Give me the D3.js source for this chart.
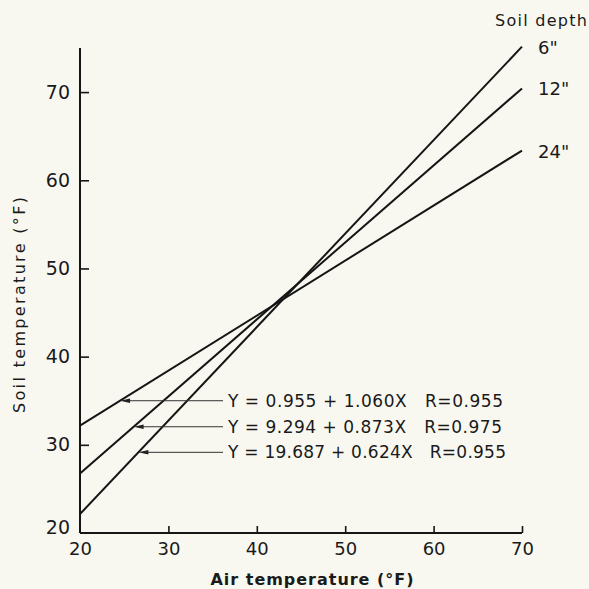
<!DOCTYPE html>
<html><head><meta charset="utf-8">
<script src="https://cdn.jsdelivr.net/npm/d3@7"></script>
<style>
html,body{margin:0;padding:0;background:#f8f8f1;}
svg{display:block;}
text{font-family:"DejaVu Sans",sans-serif;fill:#1a1a1a;}
.eq{white-space:pre;}
</style></head><body>
<svg id="c" width="589" height="589"></svg>
<script>
// Data
const depths = ['6"', '12"', '24"'];
const lineX = [20, 70];
const line6 = [22.15, 75.15];
const line12 = [26.75, 70.41];
const line24 = [32.17, 63.37];
const xTicks = [20, 30, 40, 50, 60, 70];
const yTicks = [20, 30, 40, 50, 60, 70];
const equations = ["Y = 0.955 + 1.060X   R=0.955", "Y = 9.294 + 0.873X   R=0.975", "Y = 19.687 + 0.624X   R=0.955"];
const eqArrowY = [35.0, 32.05, 29.15];
const eqTarget = [2, 1, 0]; // index into series
const series = [line6, line12, line24];

const svg = d3.select('#c');
const x = d3.scaleLinear().domain([20, 70]).range([80, 522]);
const y = d3.scaleLinear().domain([20, 75]).range([533, 48]);
const ink = '#151515';
const FF = '"DejaVu Sans",sans-serif';

// axes
const xAxis = d3.axisBottom(x).tickValues(xTicks).tickSize(-7).tickPadding(9).tickFormat(d3.format('d'));
const gx = svg.append('g').attr('transform', `translate(0,${y(20)})`).call(xAxis);
gx.select('.domain').attr('d', `M${x(20)},0H${x(70)}`).attr('stroke', ink).attr('stroke-width', 2);
gx.selectAll('.tick line').attr('stroke', ink).attr('stroke-width', 1.6);
gx.selectAll('.tick').filter(d => d === 20).select('line').remove();
gx.selectAll('.tick text').attr('font-size', 18).attr('fill', '#1a1a1a').attr('font-family', FF);

const yAxis = d3.axisLeft(y).tickValues(yTicks).tickSize(-9).tickPadding(10).tickFormat(d3.format('d'));
const gy = svg.append('g').attr('transform', `translate(${x(20)},0)`).call(yAxis);
gy.select('.domain').attr('d', `M0,${y(20)}V${y(75)}`).attr('stroke', ink).attr('stroke-width', 2);
gy.selectAll('.tick line').attr('stroke', ink).attr('stroke-width', 1.6);
gy.selectAll('.tick').filter(d => d === 20).select('line').remove();
gy.selectAll('.tick text').attr('font-size', 19).attr('fill', '#1a1a1a').attr('font-family', FF);
gy.selectAll('.tick').filter(d => d === 20).select('text').attr('dy', '0.05em');

// lines
const lg = d3.line().x((d, i) => x(lineX[i])).y(d => y(d));
svg.selectAll('path.ser').data(series).join('path').attr('class', 'ser')
  .attr('d', d => lg(d)).attr('fill', 'none').attr('stroke', ink).attr('stroke-width', 2);

// depth labels
svg.append('text').attr('x', 541).attr('y', 26).attr('text-anchor', 'middle').attr('font-size', 16).attr('textLength', 92).text('Soil depth');
svg.selectAll('text.dep').data(depths).join('text').attr('class', 'dep')
  .attr('x', 538).attr('y', (d, i) => y(series[i][1]) + 7).attr('font-size', 18).text(d => d);

// equations with arrows
const eqG = svg.append('g');
equations.forEach((t, i) => {
  const s = series[eqTarget[i]];
  const yv = eqArrowY[i];
  const xv = lineX[0] + (yv - s[0]) / (s[1] - s[0]) * (lineX[1] - lineX[0]);
  const ax = x(xv), ay = y(yv);
  eqG.append('line').attr('x1', 223).attr('x2', ax + 6).attr('y1', ay).attr('y2', ay)
    .attr('stroke', '#333').attr('stroke-width', 1);
  eqG.append('path').attr('d', `M${ax},${ay}L${ax + 10},${ay - 2.2}L${ax + 10},${ay + 2.2}Z`).attr('fill', '#222');
  eqG.append('text').attr('class', 'eq').attr('x', 228).attr('y', ay + 6).attr('font-size', 17)
    .attr('textLength', [275, 274, 278][i]).attr('lengthAdjust', 'spacing').text(t);
});

// axis titles
svg.append('text').attr('x', 312).attr('y', 585).attr('text-anchor', 'middle').attr('font-size', 16).attr('font-weight', 'bold').attr('textLength', 203).text('Air temperature (°F)');
svg.append('text').attr('transform', 'translate(25,305) rotate(-90)').attr('text-anchor', 'middle').attr('font-size', 16).attr('textLength', 216).text('Soil temperature (°F)');
</script></body></html>
